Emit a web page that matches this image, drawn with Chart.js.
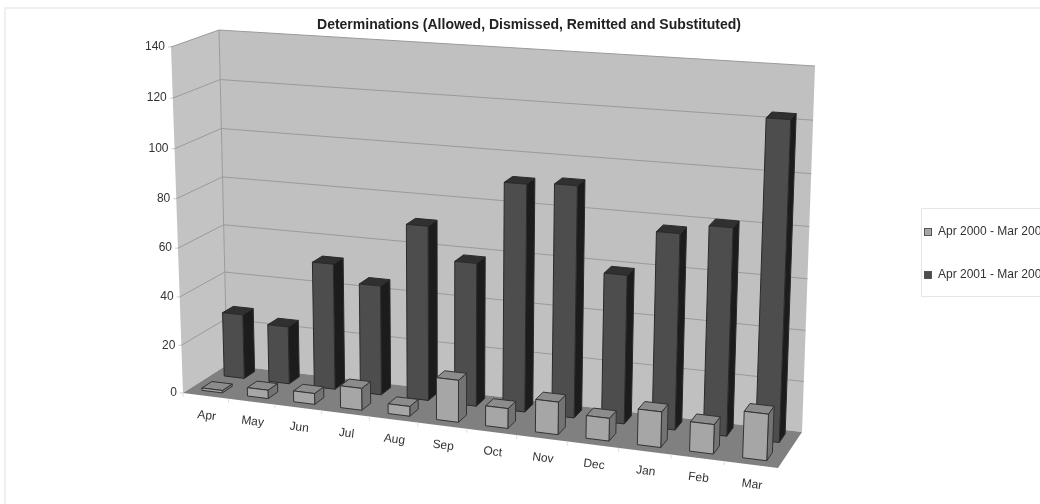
<!DOCTYPE html>
<html>
<head>
<meta charset="utf-8">
<title>Determinations</title>
<script src="https://cdn.jsdelivr.net/npm/chart.js@4/dist/chart.umd.js"></script>
<style>
  html, body { margin: 0; background: #fff; }
  canvas { display: block; }
</style>
</head>
<body>
<canvas id="chart" width="1040" height="504"></canvas>
<script>
// ----- Data -----
const months = ['Apr', 'May', 'Jun', 'Jul', 'Aug', 'Sep', 'Oct', 'Nov', 'Dec', 'Jan', 'Feb', 'Mar'];
const period2000 = [1, 3.5, 4.5, 9, 4, 17, 8, 13, 9, 14, 11.5, 18];
const period2001 = [27, 24, 52, 45, 71, 58, 91, 92, 59, 77, 81, 123];
const yTicks = { min: 0, max: 140, step: 20 };

// ----- Box corners of the 3D plot -----
const FLOOR = [[183, 393], [778, 468], [802, 432], [227, 365]];   // front-left, front-right, back-right, back-left
const CEIL  = [[171, 47], [793, 90], [815, 66], [219, 30]];
const WIDTH_K = 0.912;   // right end is nearer, so months spread out towards it
const HEIGHT_K = 0.96;   // tall end of the box sits a bit closer to the viewer
const FONT = '"Liberation Sans", Arial, sans-serif';

const warp = (t, k) => t * k / (1 + t * (k - 1));

function quadAt(q, u, v) {
  const fx = q[0][0] + (q[1][0] - q[0][0]) * u, fy = q[0][1] + (q[1][1] - q[0][1]) * u;
  const bx = q[3][0] + (q[2][0] - q[3][0]) * u, by = q[3][1] + (q[2][1] - q[3][1]) * u;
  return [fx + (bx - fx) * v, fy + (by - fy) * v];
}

// u = along categories, v = depth (0 front, 1 back), w = height
function project(u, v, w) {
  const uu = warp(u, WIDTH_K), t = warp(w, HEIGHT_K);
  const a = quadAt(FLOOR, uu, v), b = quadAt(CEIL, uu, v);
  return [a[0] + (b[0] - a[0]) * t, a[1] + (b[1] - a[1]) * t];
}

function poly(ctx, pts, fill, stroke, lw) {
  ctx.beginPath();
  pts.forEach((p, i) => (i ? ctx.lineTo(p[0], p[1]) : ctx.moveTo(p[0], p[1])));
  ctx.closePath();
  if (fill) { ctx.fillStyle = fill; ctx.fill(); }
  if (stroke) { ctx.strokeStyle = stroke; ctx.lineWidth = lw || 1; ctx.stroke(); }
}

// Bar controller that keeps the library's bar layout but paints boxes in the projected space
class Box3DController extends Chart.BarController {
  draw() {
    const chart = this.chart, ctx = chart.ctx, area = chart.chartArea;
    const ds = this.getDataset();
    const nu = (px) => (px - area.left) / area.width;
    const nw = (py) => (area.bottom - py) / area.height;
    ctx.save();
    ctx.lineJoin = 'round';
    this.getMeta().data.forEach((el) => {
      const u0 = nu(el.x - el.width / 2), u1 = nu(el.x + el.width / 2);
      const w0 = nw(el.base), w1 = nw(el.y);
      const v0 = ds.depthFrom, v1 = ds.depthTo;
      const front = [project(u0, v0, w0), project(u1, v0, w0), project(u1, v0, w1), project(u0, v0, w1)];
      const side  = [project(u1, v0, w0), project(u1, v1, w0), project(u1, v1, w1), project(u1, v0, w1)];
      const top   = [project(u0, v0, w1), project(u1, v0, w1), project(u1, v1, w1), project(u0, v1, w1)];
      poly(ctx, side, ds.sideColor, ds.borderColor);
      poly(ctx, top, ds.topColor, ds.borderColor);
      poly(ctx, front, ds.backgroundColor, ds.borderColor);
    });
    ctx.restore();
  }
}
Box3DController.id = 'box3d';
Box3DController.defaults = Chart.BarController.defaults;
Box3DController.overrides = Chart.BarController.overrides;
Chart.register(Box3DController);

// Walls, floor and gridlines, painted before the boxes
const wallsPlugin = {
  id: 'walls',
  beforeDatasetsDraw(chart) {
    const ctx = chart.ctx, y = chart.scales.y;
    const area = chart.chartArea;
    const nw = (v) => (area.bottom - y.getPixelForValue(v)) / area.height;
    ctx.save();
    // outer frame, right side runs off the canvas
    ctx.strokeStyle = '#ececec';
    ctx.lineWidth = 1.5;
    ctx.strokeRect(5, 8, 1060, 520);

    poly(ctx, [project(0, 1, 0), project(1, 1, 0), project(1, 1, 1), project(0, 1, 1)], '#c0c0c0');
    poly(ctx, [project(0, 0, 0), project(0, 1, 0), project(0, 1, 1), project(0, 0, 1)], '#c3c3c3');
    poly(ctx, [project(0, 0, 0), project(1, 0, 0), project(1, 1, 0), project(0, 1, 0)], '#808080');

    ctx.strokeStyle = '#9a9a9a';
    ctx.lineWidth = 1;
    y.ticks.forEach((t) => {
      const w = nw(t.value);
      if (t.value === y.min) return;
      const a = project(0, 0, w), b = project(0, 1, w), c = project(1, 1, w);
      ctx.beginPath();
      ctx.moveTo(a[0], a[1]); ctx.lineTo(b[0], b[1]); ctx.lineTo(c[0], c[1]);
      ctx.stroke();
    });
    const b0 = project(0, 1, 0), b1 = project(0, 1, 1);
    ctx.beginPath();
    ctx.moveTo(b0[0], b0[1]); ctx.lineTo(b1[0], b1[1]);
    ctx.stroke();
    ctx.restore();
  }
};

// Axis labels follow the projected front edge; legend box runs off the right side
const labelsPlugin = {
  id: 'labels3d',
  afterDraw(chart) {
    const ctx = chart.ctx, area = chart.chartArea;
    const x = chart.scales.x, y = chart.scales.y;
    ctx.save();

    ctx.fillStyle = '#333333';
    ctx.font = '12px ' + FONT;
    ctx.textAlign = 'right';
    ctx.textBaseline = 'middle';
    y.ticks.forEach((t) => {
      const w = (area.bottom - y.getPixelForValue(t.value)) / area.height;
      const p = project(0, 0, w);
      ctx.strokeStyle = '#cccccc';
      ctx.beginPath();
      ctx.moveTo(p[0] - 3, p[1]); ctx.lineTo(p[0], p[1]);
      ctx.stroke();
      ctx.fillText(t.label, p[0] - 6, p[1]);
    });

    const left = project(0, 0, 0), right = project(1, 0, 0);
    const tilt = Math.atan2(right[1] - left[1], right[0] - left[0]);
    ctx.textAlign = 'center';
    x.getLabels().forEach((label, i) => {
      const u = (x.getPixelForValue(i) - area.left) / area.width;
      const p = project(u, 0, 0);
      const e = project((x.getPixelForValue(i) - x.width / 24 - area.left) / area.width, 0, 0);
      ctx.strokeStyle = '#dddddd';
      ctx.beginPath();
      ctx.moveTo(e[0], e[1]); ctx.lineTo(e[0], e[1] + 4);
      ctx.stroke();
      ctx.save();
      ctx.translate(p[0] + 1, p[1] + 20);
      ctx.rotate(tilt);
      ctx.fillText(label, 0, 0);
      ctx.restore();
    });

    // legend
    ctx.strokeStyle = '#e6e6e6';
    ctx.lineWidth = 1;
    ctx.strokeRect(921.5, 208.5, 130, 88);
    ctx.textAlign = 'left';
    chart.data.datasets.forEach((ds, i) => {
      const ly = 232 + i * 43;
      ctx.fillStyle = ds.backgroundColor;
      ctx.fillRect(925, ly - 3, 6, 6);
      ctx.strokeStyle = '#555';
      ctx.strokeRect(924.5, ly - 3.5, 7, 7);
      ctx.fillStyle = '#333333';
      ctx.fillText(ds.label, 938, ly);
    });
    ctx.restore();
  }
};

new Chart(document.getElementById('chart'), {
  type: 'box3d',
  data: {
    labels: months,
    datasets: [
      {
        label: 'Apr 2000 - Mar 2001',
        data: period2000,
        backgroundColor: '#a6a6a6',
        sideColor: '#737373',
        topColor: '#8c8c8c',
        borderColor: '#333333',
        depthFrom: 0.15,
        depthTo: 0.38
      },
      {
        label: 'Apr 2001 - Mar 2002',
        data: period2001,
        backgroundColor: '#4d4d4d',
        sideColor: '#1c1c1c',
        topColor: '#303030',
        borderColor: '#2a2a2a',
        depthFrom: 0.66,
        depthTo: 0.9
      }
    ]
  },
  options: {
    responsive: false,
    animation: false,
    layout: { padding: { left: 18, top: 16 } },
    datasets: { box3d: { grouped: false, barPercentage: 0.45, categoryPercentage: 1 } },
    scales: {
      x: { type: 'category', display: false, ticks: { autoSkip: false } },
      y: { type: 'linear', display: false, min: yTicks.min, max: yTicks.max, ticks: { stepSize: yTicks.step } }
    },
    plugins: {
      legend: { display: false },
      tooltip: { enabled: false },
      title: {
        display: true,
        text: 'Determinations (Allowed, Dismissed, Remitted and Substituted)',
        color: '#222222',
        font: { family: FONT, size: 14, weight: 'bold' },
        padding: { top: 1, bottom: 4 }
      }
    }
  },
  plugins: [wallsPlugin, labelsPlugin]
});
</script>
</body>
</html>
